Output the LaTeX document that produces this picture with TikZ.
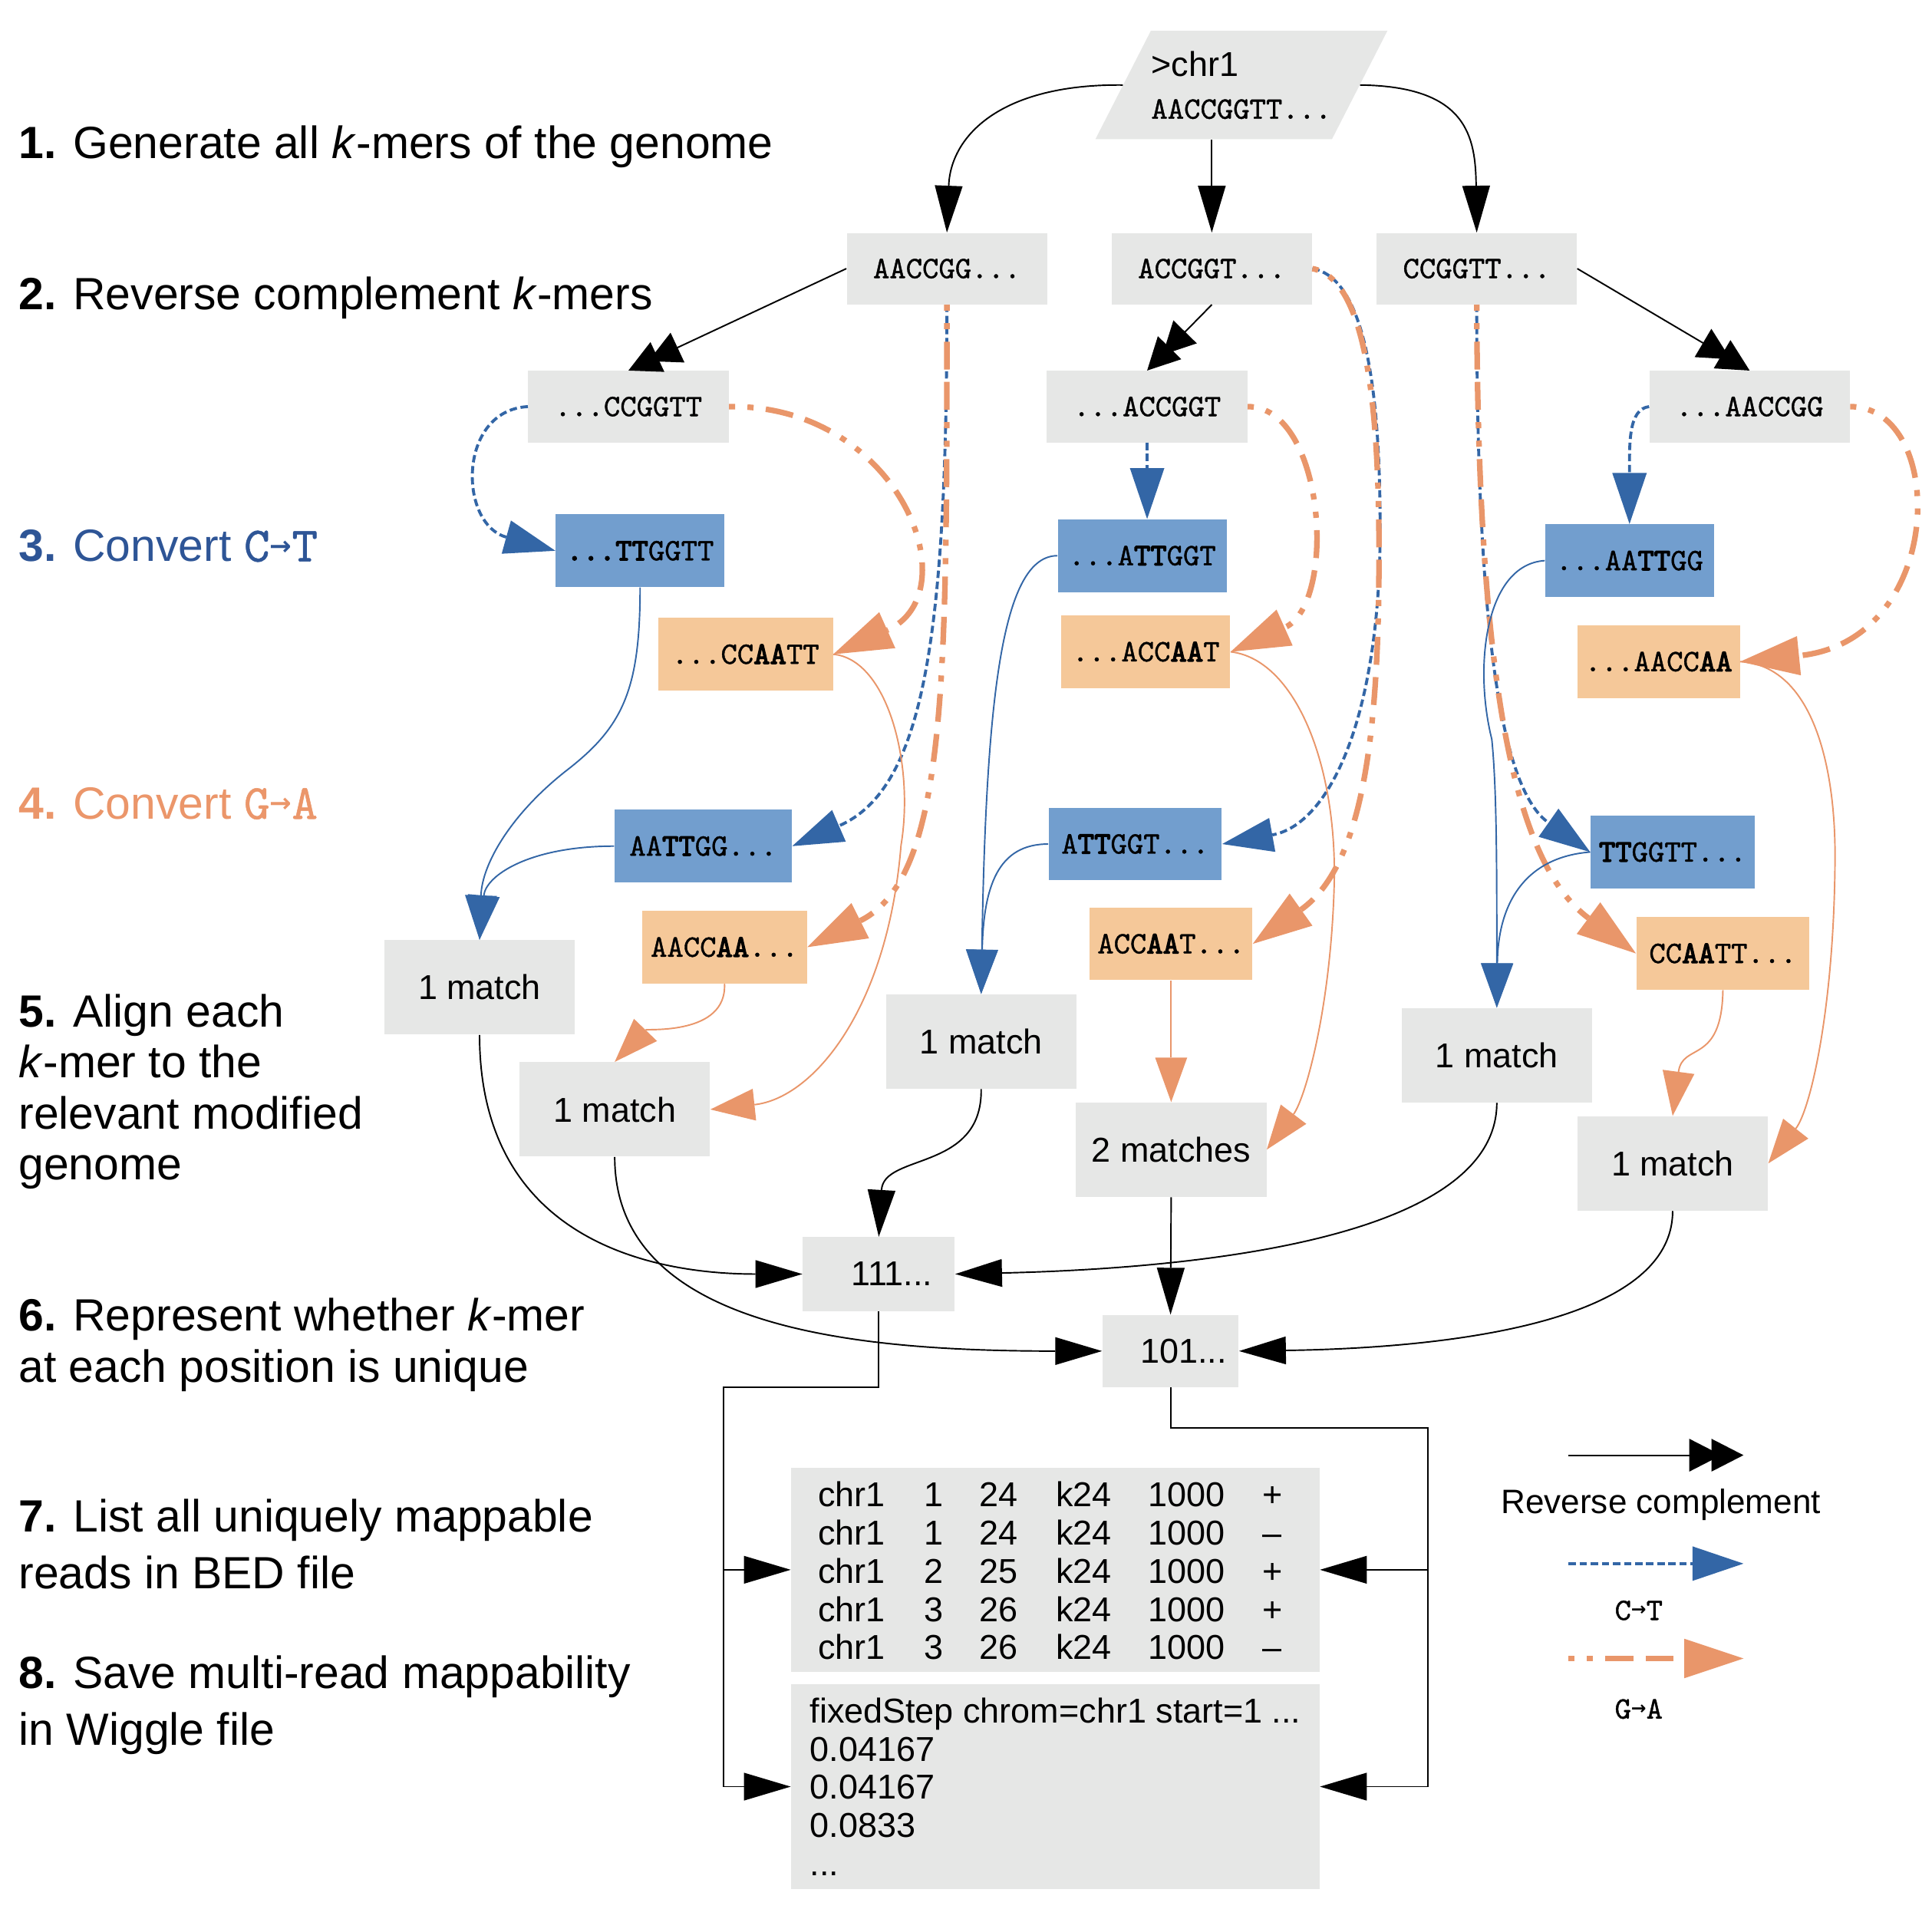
\documentclass[tikz,border=0pt]{standalone}
\usepackage{fontspec}
\setmainfont{Liberation Sans}
\setmonofont{lmmono10-regular.otf}[UprightFeatures={FakeBold=0.9}, BoldFont=lmmono10-regular.otf, BoldFeatures={FakeBold=3.2}]
\newfontfamily\symbolfont{DejaVu Sans}
\usetikzlibrary{arrows.meta}

\begin{document}
\begin{tikzpicture}[x=0.75pt,y=0.75pt,yscale=-1,xscale=1,
  kmer/.style={fill={rgb, 255:red, 230; green, 231; blue, 230 }, inner sep=0pt, minimum width=122pt, minimum height=43.5pt, font=\fontsize{19}{23}\selectfont\ttfamily},
  ctbox/.style={kmer, fill={rgb, 255:red, 114; green, 158; blue, 206 }, minimum width=102.75pt, minimum height=44.25pt},
  gabox/.style={kmer, fill={rgb, 255:red, 245; green, 200; blue, 153 }, minimum width=102.75pt, minimum height=44.25pt},
  hits/.style={fill={rgb, 255:red, 230; green, 231; blue, 230 }, inner sep=0pt, minimum width=116pt, minimum height=57.5pt, font=\fontsize{21}{25}\selectfont},
  filebox/.style={fill={rgb, 255:red, 230; green, 231; blue, 230 }, inner sep=0pt, minimum width=321.75pt, minimum height=124.5pt, font=\fontsize{21}{23.25}\selectfont},
  steptext/.style={anchor=west, align=left, inner sep=0pt, font=\fontsize{27.5}{31.1}\selectfont},
  rcline/.style={line width=0.9pt, -{Triangle[length=19.5pt,width=20pt,sep=-6pt,line width=0pt]Triangle[length=19.5pt,width=20pt,line width=0pt]}},
  plainline/.style={line width=0.9pt, -{Triangle[length=28.5pt,width=17pt,line width=0pt]}},
  ctline/.style={draw={rgb, 255:red, 51; green, 102; blue, 166 }, line width=1.8pt, dash pattern=on 4.5pt off 2.25pt, -{Triangle[length=31pt,width=21pt,line width=0pt]}},
  galine/.style={draw={rgb, 255:red, 233; green, 150; blue, 106 }, line width=3.4pt, dash pattern=on 3.75pt off 7.5pt on 3.75pt off 7.5pt on 17pt off 7.5pt on 17pt off 7.5pt, -{Triangle[length=36pt,width=24pt,line width=0pt]}},
  ctalign/.style={draw={rgb, 255:red, 51; green, 102; blue, 166 }, line width=0.9pt, -{Triangle[length=27pt,width=19.5pt,line width=0pt]}},
  gaalign/.style={draw={rgb, 255:red, 233; green, 150; blue, 106 }, line width=0.9pt, -{Triangle[length=27pt,width=19.5pt,line width=0pt]}}]
\useasboundingbox (0,0) rectangle (1568,1549);

% Text Node
\node[steptext] (step1) at (15,118.8) {\textbf{1.} Generate all \textit{k}-mers of the genome};
% Text Node
\node[steptext] (step2) at (15,241.8) {\textbf{2.} Reverse complement \textit{k}-mers};
% Text Node
\node[steptext, text={rgb, 255:red, 46; green, 85; blue, 150 }] (step3) at (15,443) {\textbf{3.} Convert {\ttfamily\fontsize{30}{30}\selectfont C\raisebox{4pt}{\symbolfont\bfseries\fontsize{16}{16}\selectfont →}T}};
% Text Node
\node[steptext, text={rgb, 255:red, 235; green, 150; blue, 106 }] (step4) at (15,652) {\textbf{4.} Convert {\ttfamily\fontsize{30}{30}\selectfont G\raisebox{4pt}{\symbolfont\bfseries\fontsize{16}{16}\selectfont →}A}};
% Text Node
\node[steptext] (step5) at (15,886) {\textbf{5.} Align each\\\textit{k}-mer to the\\relevant modified\\genome};
% Text Node
\node[steptext] (step6) at (15,1091.6) {\textbf{6.} Represent whether \textit{k}-mer\\at each position is unique};
% Text Node
\node[steptext, font=\fontsize{27.5}{34.5}\selectfont] (step7) at (15,1253) {\textbf{7.} List all uniquely mappable\\reads in BED file};
% Text Node
\node[steptext, font=\fontsize{27.5}{34.5}\selectfont] (step8) at (15,1383.8) {\textbf{8.} Save multi-read mappability\\in Wiggle file};

%Shape: Parallelogram
\fill[fill={rgb, 255:red, 230; green, 231; blue, 230 }] (889,113) -- (934,25) -- (1126,25) -- (1081,113) -- cycle;
% Text Node
\node[minimum width=144pt, minimum height=66pt, inner sep=0pt, align=left, font=\fontsize{21}{26}\selectfont] (chr1) at (1007.5,69) {>chr1\\{\ttfamily\fontsize{19}{26}\selectfont AACCGGTT...}};

%Shape: Rectangle
\node[kmer] (fwd1) at (768.5,218) {AACCGG...};
\node[kmer] (fwd2) at (983.5,218) {ACCGGT...};
\node[kmer] (fwd3) at (1198.5,218) {CCGGTT...};
\node[kmer] (rc1) at (510,330) {...CCGGTT};
\node[kmer] (rc2) at (931,330) {...ACCGGT};
\node[kmer] (rc3) at (1420,330) {...AACCGG};

%Shape: Rectangle
\node[ctbox] (ctRc1) at (519.5,447) {\textbf{...TT}GGTT};
\node[gabox, minimum width=106.5pt] (gaRc1) at (605,531) {...CC\textbf{AA}TT};
\node[ctbox] (ctRc2) at (927,451) {...A\textbf{TT}GGT};
\node[gabox] (gaRc2) at (930,529) {...ACC\textbf{AA}T};
\node[ctbox] (ctRc3) at (1322.5,455) {...AA\textbf{TT}GG};
\node[gabox, minimum width=99pt] (gaRc3) at (1346,537) {...AACC\textbf{AA}};
\node[ctbox, minimum width=108pt] (ctFw1) at (570.7,686.7) {AA\textbf{TT}GG...};
\node[gabox, minimum width=100.5pt] (gaFw1) at (588,768.7) {AACC\textbf{AA}...};
\node[ctbox, minimum width=105.5pt] (ctFw2) at (921.3,685) {A\textbf{TT}GGT...};
\node[gabox, minimum width=99pt] (gaFw2) at (950.5,766) {ACC\textbf{AA}T...};
\node[ctbox, minimum width=100pt] (ctFw3) at (1357.5,691.5) {\textbf{TT}GGTT...};
\node[gabox, minimum width=105.5pt] (gaFw3) at (1398.3,773.8) {CC\textbf{AA}TT...};

%Shape: Rectangle
\node[hits] (hit1A) at (389.2,801.3) {1 match};
\node[hits] (hit1B) at (498.9,900.4) {1 match};
\node[hits] (hit2A) at (796.3,845.3) {1 match};
\node[hits] (hit2B) at (950.5,933) {2 matches};
\node[hits] (hit3A) at (1214.8,856.4) {1 match};
\node[hits] (hit3B) at (1357.5,944.2) {1 match};

%Shape: Rectangle
\node[hits, minimum width=92.6pt, minimum height=45pt] (uniq1) at (713.2,1034) {\hspace*{16pt}111...};
\node[hits, minimum width=83pt, minimum height=44pt] (uniq2) at (950,1096.5) {\hspace*{16pt}101...};

%Shape: Rectangle
\node[filebox] (bed) at (856.5,1274) {\raisebox{0pt}[\dimexpr\height+7pt][\depth]{\begin{tabular}{@{}p{64.5pt}@{}p{33.75pt}@{}p{46.5pt}@{}p{56.25pt}@{}p{69.75pt}@{}p{18pt}@{}}
chr1 & 1 & 24 & k24 & 1000 & + \\
chr1 & 1 & 24 & k24 & 1000 & – \\
chr1 & 2 & 25 & k24 & 1000 & + \\
chr1 & 3 & 26 & k24 & 1000 & + \\
chr1 & 3 & 26 & k24 & 1000 & –
\end{tabular}}};
\node[filebox, align=left] (wig) at (856.5,1450) {fixedStep chrom=chr1 start=1 ...\\0.04167\\0.04167\\0.0833\\...};

%Curve Lines
\draw[plainline] (chr1.west) .. controls +(-100,-1) and +(3,-78) .. (fwd1.north);
%Straight Lines
\draw[plainline] (chr1.south -| fwd2.north) -- (fwd2.north);
%Curve Lines
\draw[plainline] (chr1.east) .. controls +(87,1) and +(-1,-78) .. (fwd3.north);

%Straight Lines
\draw[rcline] (fwd1.west) -- (rc1.north);
\draw[rcline] (fwd2.south) -- (rc2.north);
\draw[rcline] (fwd3.east) -- (rc3.north);

%Curve Lines
\draw[ctline] (rc1.west) .. controls +(-57,3) and +(-79,-22) .. (ctRc1.west);
\draw[ctline] (rc2.south) -- (rc2.south |- ctRc2.north);
\draw[ctline] (rc3.west) .. controls +(-17,2) and +(0,-65) .. (ctRc3.north);
\draw[ctline] (fwd1.south) .. controls +(0,273) and +(106,-46) .. (ctFw1.east);
\draw[ctline] (fwd2.east) .. controls +(46,8) and +(0,-100) .. ++(55,212) .. controls +(0,150) and +(88,-16) .. (ctFw2.east);
\draw[ctline] (fwd3.south) .. controls +(0,273) and +(-71,-50) .. (ctFw3.west);

%Curve Lines
\draw[galine] (rc1.east) .. controls +(138,-2) and +(112,-50) .. (gaRc1.east);
\draw[galine] (rc2.east) .. controls +(63,0) and +(87,-39) .. (gaRc2.east);
\draw[galine] (rc3.east) .. controls +(79,0) and +(168,-17) .. (gaRc3.east);
\draw[galine] (fwd1.south) .. controls +(0,303) and +(114,-57) .. (gaFw1.east);
\draw[galine] (fwd2.east) .. controls +(44,8) and +(-1,-100) .. ++(54,213) .. controls +(1,150) and +(93,-66) .. (gaFw2.east);
\draw[galine] (fwd3.south) .. controls +(1,313) and +(-98,-73) .. (gaFw3.west);

%Curve Lines
\draw[ctalign] (ctRc1.south) .. controls +(0,83) and +(45,-35) .. ++(-59,148) .. controls +(-45,35) and +(2,-62) .. (hit1A.north);
\draw[ctalign] (ctFw1.west) .. controls +(-69,0) and +(5,-52) .. (hit1A.north);
\draw[ctalign] (ctRc2.west) .. controls +(-44,0) and +(4,-247) .. (hit2A.north);
\draw[ctalign] (ctFw2.west) .. controls +(-41,0) and +(2,-87) .. (hit2A.north);
\draw[ctalign] (ctRc3.west) .. controls +(-48,3) and +(-15,-60) .. ++(-43,145) .. controls +(4,40) and +(0,-117) .. (hit3A.north);
\draw[ctalign] (ctFw3.west) .. controls +(-51,4) and +(1,-87) .. (hit3A.north);

%Curve Lines
\draw[gaalign] (gaRc1.east) .. controls +(44,4) and +(11,-66) .. ++(55,155) .. controls +(-11,134) and +(83,-9) .. (hit1B.east);
\draw[gaalign] (gaFw1.south) .. controls +(2,42) and +(26,-27) .. (hit1B.north);
\draw[gaalign] (gaRc2.east) .. controls +(52,6) and +(3,-100) .. ++(84,191) .. controls +(-3,100) and +(31,-41) .. (hit2B.east);
\draw[gaalign] (gaFw2.south) -- (hit2B.north);
\draw[gaalign] (gaRc3.east) .. controls +(58,3) and +(1,-80) .. ++(77,163) .. controls +(-1,120) and +(34,-43) .. (hit3B.east);
\draw[gaalign] (gaFw3.south) .. controls +(-1,61) and +(8,-60) .. (hit3B.north);

%Curve Lines
\draw[plainline] (hit1A.south) .. controls +(0,161) and +(-131,0) .. (uniq1.west);
\draw[plainline] (hit2A.south) .. controls +(1,67) and +(4,-68) .. (uniq1.north);
\draw[plainline] (hit3A.south) .. controls +(0,115) and +(175,-4) .. (uniq1.east);
\draw[plainline] (hit1B.south) .. controls +(0,141) and +(-195,0) .. (uniq2.west);
\draw[plainline] (hit2B.south) -- (uniq2.north);
\draw[plainline] (hit3B.south) .. controls +(0,97) and +(144,-2) .. (uniq2.east);

%Straight Lines
\coordinate (split1) at (587,1126);
\coordinate (split2) at (1159,1159);
\draw[plainline] (uniq1.south) |- (split1) |- (bed.west);
\draw[plainline] (split1) |- (wig.west);
\draw[plainline] (uniq2.south) |- (split2) |- (bed.east);
\draw[plainline] (split2) |- (wig.east);

%Legend
\coordinate (keyRCa) at (1273,1181);
\coordinate (keyRCb) at (1415,1181);
\coordinate (keyCTa) at (1273,1269);
\coordinate (keyCTb) at (1415,1269);
\coordinate (keyGAa) at (1273,1346);
\coordinate (keyGAb) at (1415,1346);
\draw[rcline] (keyRCa) -- (keyRCb);
\draw[ctline] (keyCTa) -- (keyCTb);
\draw[galine] (keyGAa) -- (keyGAb);
% Text Node
\node[font=\fontsize{20.6}{24}\selectfont] (keyRC) at (1348,1221) {Reverse complement};
\node[font=\fontsize{19}{23}\selectfont\ttfamily] (keyCT) at (1330,1307) {C\raisebox{2.5pt}{\symbolfont\bfseries\fontsize{11}{11}\selectfont →}T};
\node[font=\fontsize{19}{23}\selectfont\ttfamily] (keyGA) at (1330,1387) {G\raisebox{2.5pt}{\symbolfont\bfseries\fontsize{11}{11}\selectfont →}A};

\end{tikzpicture}
\end{document}
